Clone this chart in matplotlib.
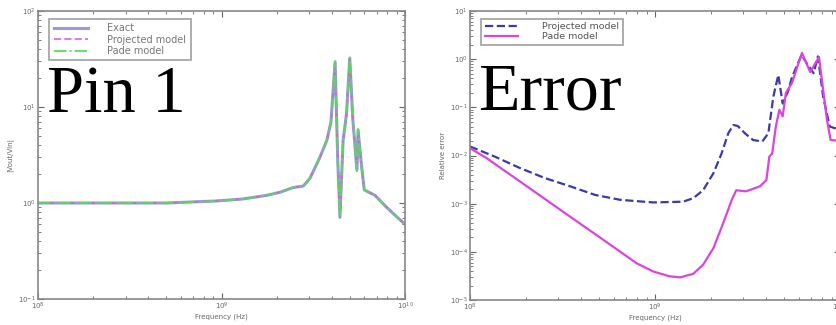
import matplotlib
matplotlib.use("Agg")
import matplotlib.pyplot as plt
from matplotlib.ticker import LogLocator, LogFormatterSciNotation, NullFormatter

# --- data ---
# left panel: transfer function at pin 1
freq_pin = [1e8, 2e8, 5e8, 9.4e8, 1.3e9, 1.76e9, 2.1e9, 2.46e9, 2.79e9, 3.03e9, 3.44e9,
            3.75e9, 3.95e9, 4.16e9, 4.3e9, 4.42e9, 4.6e9, 4.8e9, 5.0e9, 5.2e9, 5.47e9,
            5.55e9, 5.8e9, 6.0e9, 6.87e9, 7.9e9, 8.8e9, 1e10]
exact = [1.0, 1.0, 1.0, 1.05, 1.1, 1.2, 1.3, 1.45, 1.5, 1.8, 3.0,
         4.5, 7.0, 29.4, 2.8, 0.71, 4.5, 8.5, 32.4, 7.3, 2.2,
         5.75, 2.4, 1.37, 1.2, 0.91, 0.75, 0.6]
projected = [1.0, 1.0, 1.0, 1.05, 1.1, 1.2, 1.3, 1.45, 1.5, 1.8, 3.0,
             4.5, 7.0, 28.5, 2.9, 0.72, 4.4, 8.4, 31.5, 7.2, 2.25,
             5.6, 2.4, 1.37, 1.2, 0.91, 0.75, 0.6]
pade = [1.0, 1.0, 1.0, 1.05, 1.1, 1.2, 1.3, 1.45, 1.5, 1.8, 3.0,
        4.5, 7.0, 30.0, 2.7, 0.70, 4.6, 8.6, 33.0, 7.4, 2.15,
        5.9, 2.35, 1.37, 1.2, 0.91, 0.75, 0.6]

# right panel: relative error
freq_proj_err = [1e8, 1.36e8, 1.86e8, 2.54e8, 3.47e8, 4.74e8, 6.5e8, 9.8e8, 1.42e9,
                 1.61e9, 1.82e9, 2.07e9, 2.29e9, 2.49e9, 2.65e9, 2.8e9, 3.06e9, 3.39e9,
                 3.8e9, 4.1e9, 4.36e9, 4.64e9, 4.9e9, 5.25e9, 5.5e9, 6.2e9, 6.6e9,
                 7.2e9, 7.6e9, 8.1e9, 8.8e9, 1e10]
proj_err = [0.0154, 0.0095, 0.0055, 0.0034, 0.0023, 0.00152, 0.0012, 0.00106, 0.0011,
            0.0013, 0.0019, 0.0043, 0.011, 0.029, 0.043, 0.041, 0.029, 0.021,
            0.0195, 0.029, 0.166, 0.47, 0.12, 0.22, 0.42, 1.23, 0.83,
            0.51, 1.14, 0.17, 0.04, 0.034]
freq_pade_err = [1e8, 1.23e8, 1.86e8, 3.47e8, 5.25e8, 7.95e8, 9.8e8, 1.2e9, 1.37e9,
                 1.61e9, 1.82e9, 2.07e9, 2.34e9, 2.6e9, 2.75e9, 3.1e9, 3.7e9, 4.0e9,
                 4.15e9, 4.3e9, 4.5e9, 4.7e9, 4.9e9, 5.1e9, 5.5e9, 6.23e9, 6.9e9,
                 7.7e9, 8.5e9, 8.9e9, 1e10]
pade_err = [0.0142, 0.0088, 0.0029, 5.4e-4, 1.78e-4, 5.8e-5, 3.9e-5, 3.1e-5, 2.95e-5,
            3.5e-5, 5.4e-5, 1.2e-4, 4.0e-4, 1.2e-3, 1.9e-3, 1.8e-3, 2.3e-3, 3.1e-3,
            0.0095, 0.011, 0.04, 0.089, 0.065, 0.2, 0.32, 1.35, 0.54,
            1.11, 0.055, 0.021, 0.02]

grey = "#666666"


def style_axes(ax):
    ax.set_xscale("log")
    ax.set_yscale("log")
    ax.xaxis.set_major_locator(LogLocator(base=10))
    ax.yaxis.set_major_locator(LogLocator(base=10))
    ax.xaxis.set_minor_locator(LogLocator(base=10, subs=range(2, 10), numticks=50))
    ax.yaxis.set_minor_locator(LogLocator(base=10, subs=range(2, 10), numticks=50))
    ax.xaxis.set_minor_formatter(NullFormatter())
    ax.yaxis.set_minor_formatter(NullFormatter())
    ax.xaxis.set_major_formatter(LogFormatterSciNotation())
    ax.yaxis.set_major_formatter(LogFormatterSciNotation())
    ax.tick_params(which="both", direction="in", top=True, right=True,
                   colors=grey, labelsize=5, pad=1.5)
    ax.tick_params(which="major", length=4, width=0.8)
    ax.tick_params(which="minor", length=2, width=0.6)
    for s in ax.spines.values():
        s.set_color("#888888")
        s.set_linewidth(1.2)


fig = plt.figure(figsize=(8.37, 3.25), dpi=100)

# left: pin 1
ax1 = fig.add_axes([38 / 837, 26 / 325, 367 / 837, 288 / 325])
ax1.plot(freq_pin, exact, color="#7777dd", lw=2.2, alpha=0.75, label="Exact")
ax1.plot(freq_pin, projected, color="#dd55dd", lw=1.4, ls="--", alpha=0.8, label="Projected model")
ax1.plot(freq_pin, pade, color="#55dd55", lw=1.4, ls="-.", alpha=0.9, label="Pade model")
ax1.set_xlim(1e8, 1e10)
ax1.set_ylim(0.1, 100)
style_axes(ax1)
ax1.set_xlabel("Frequency (Hz)", fontsize=5, color=grey, labelpad=1)
ax1.set_ylabel("|Vout/Vin|", fontsize=5, color=grey, labelpad=3)
leg1 = ax1.legend(loc="upper left", fontsize=7, handlelength=3.5, handletextpad=2,
                  labelspacing=0.15, borderpad=0.45, fancybox=False,
                  bbox_to_anchor=(0.018, 0.99))
leg1.get_frame().set_edgecolor("#888888")
leg1.get_frame().set_linewidth(1.2)
for t in leg1.get_texts():
    t.set_color("#777777")

# right: relative error
ax2 = fig.add_axes([470 / 837, 25 / 325, 370 / 837, 289 / 325])
ax2.plot(freq_proj_err, proj_err, color="#3a3aaa", lw=1.6, ls="--", label="Projected model")
ax2.plot(freq_pade_err, pade_err, color="#dd44dd", lw=1.6, label="Pade model")
ax2.set_xlim(1e8, 1e10)
ax2.set_ylim(1e-5, 10)
style_axes(ax2)
ax2.set_xlabel("Frequency (Hz)", fontsize=5, color=grey, labelpad=1)
ax2.set_ylabel("Relative error", fontsize=5, color=grey, labelpad=3)
leg2 = ax2.legend(loc="upper left", fontsize=6.8, handlelength=3.5, handletextpad=2.5,
                  labelspacing=0.1, borderpad=0.4, fancybox=False,
                  bbox_to_anchor=(0.018, 0.99))
leg2.get_frame().set_edgecolor("#888888")
leg2.get_frame().set_linewidth(1.2)
for t in leg2.get_texts():
    t.set_color("#555555")

# big overlay captions
fig.text(47 / 837, 1 - 112 / 325, "Pin 1", family="Liberation Serif", fontsize=48, color="black")
fig.text(478 / 837, 1 - 109 / 325, "Error", family="Liberation Serif", fontsize=49, color="black")

fig.savefig("out.png", dpi=100)
